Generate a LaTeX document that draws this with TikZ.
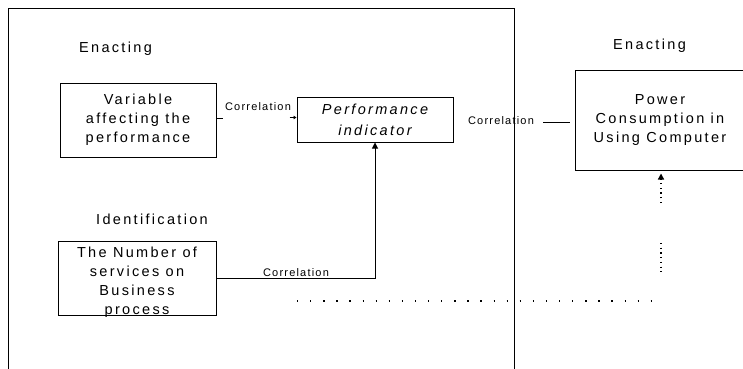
\documentclass[tikz,border=0pt]{standalone}
\usepackage{fontspec}
\setmainfont{Liberation Sans}
\newfontfamily\boxfont[LetterSpace=16]{Liberation Sans}
\newfontfamily\smallfont[LetterSpace=11]{Liberation Sans}
\usetikzlibrary{arrows.meta}

\begin{document}
\begin{tikzpicture}[x=1pt,y=-1pt,
  box/.style={draw, line width=1pt, align=center, inner sep=0pt,
    font=\boxfont\fontsize{14.5}{19}\selectfont},
  lbl/.style={font=\boxfont\fontsize{14.5}{19}\selectfont, inner sep=0pt},
  corr/.style={font=\smallfont\fontsize{11}{12}\selectfont, inner sep=0pt},
  conn/.style={line width=1pt},
  tip/.style={-{Triangle[length=6pt,width=6pt]}},
  smalltip/.style={-{Triangle[length=3pt,width=3.5pt]}},
  dots/.style={line width=1.3pt, dash pattern=on 1.3pt off 3.4pt},
  sparsedots/.style={line width=1.3pt, dash pattern=on 1.3pt off 11.8pt}
]
\useasboundingbox (0,0) rectangle (743,368);
\clip (0,0) rectangle (743,368);

% outer frame (open at the bottom)
\draw[line width=1pt] (8,372) -- (8,8) -- (514,8) -- (514,372);

% headings
\node[lbl] (en1) at (115.5,49) {Enacting};
\node[lbl] (en2) at (649.5,46) {Enacting};
\node[lbl] (ident) at (152,219) {Identification};

% boxes
\node[box, minimum width=156pt, minimum height=74pt] (var) at (138,120)
  {Variable\\affecting the\\performance};
\node[box, minimum width=156pt, minimum height=45pt,
  font=\boxfont\itshape\fontsize{14.5}{21}\selectfont] (perf) at (375,119.5)
  {Performance\\indicator};
\node[box, minimum width=158pt, minimum height=74pt] (num) at (137,278) {};
\node[lbl, align=center] (numtext) at (137,282)
  {The Number of\\services on\\Business\\process};
\node[box, minimum width=170pt, minimum height=100pt] (pow) at (660,120)
  {Power\\Consumption in\\Using Computer};

% correlation labels
\node[corr] (c1) at (258,107) {Correlation};
\node[corr] (c2) at (501,121) {Correlation};
\node[corr, anchor=south] (c3) at (296,276.5) {Correlation};

% connectors
\coordinate (vstub) at ([yshift=2pt]var.east);
\coordinate (pin) at ([yshift=2pt]perf.west);
\coordinate (cr) at ([xshift=9pt,yshift=-1pt]c2.east);
\draw[conn] (vstub) -- ++(6,0);
\draw[conn, smalltip] ([xshift=-7pt]pin) -- (pin);
\draw[conn] (cr) -- ([xshift=-5pt]pow.west |- cr);
\draw[conn, tip] (num.east) -| (perf.south);

% dotted leads
\coordinate (d1) at (661,203);
\coordinate (d2) at (661,243);
\coordinate (d3) at (661,272);
\coordinate (h1) at (297,301);
\coordinate (h2) at (662,301);
\draw[dots, tip] (d1) -- ([yshift=-3pt]d1 |- pow.south);
\draw[dots] (d2) -- (d3);
\draw[sparsedots] (h1) -- (h2);
\end{tikzpicture}
\end{document}
